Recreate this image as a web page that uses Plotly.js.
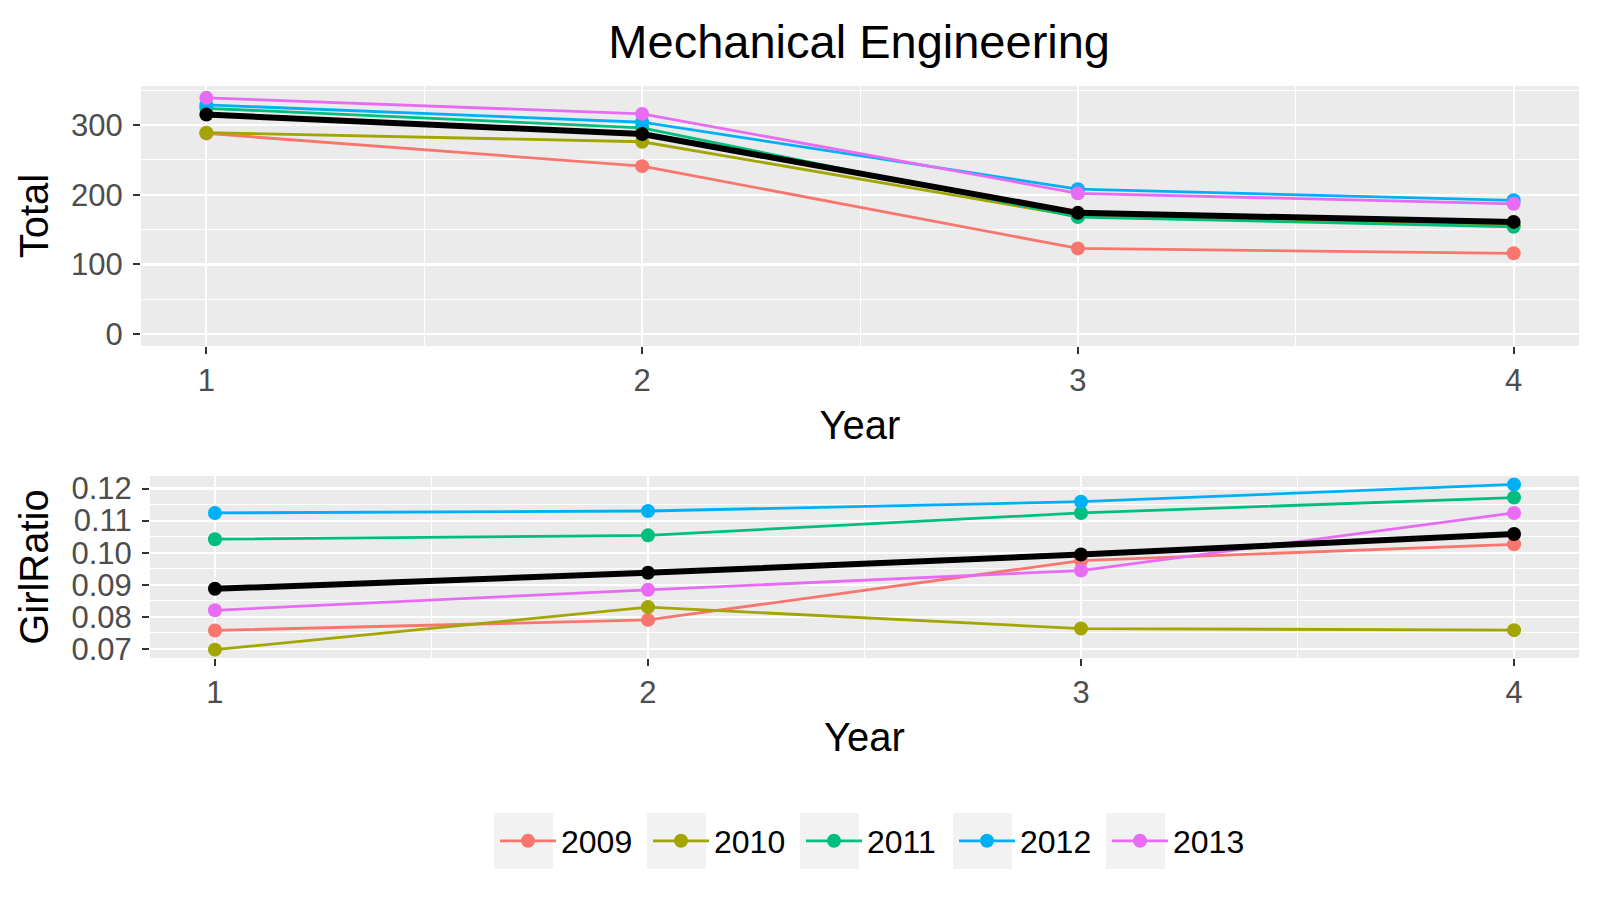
<!DOCTYPE html>
<html>
<head>
<meta charset="utf-8">
<script src="https://cdn.plot.ly/plotly-3.0.1.min.js"></script>
<style>html,body{margin:0;padding:0;background:#fff;}#chart{width:1600px;height:914px;}</style>
</head>
<body>
<div id="chart"></div>
<script>
var years = [1, 2, 3, 4];
var seriesNames = ['2009', '2010', '2011', '2012', '2013'];
var seriesColors = ['#F8766D', '#A3A500', '#00BF7D', '#00B0F6', '#E76BF3'];

var total2009 = [288, 241, 123, 116];
var total2010 = [289, 276, 169, 156];
var total2011 = [324, 296, 168, 154];
var total2012 = [329, 304, 208, 192];
var total2013 = [339, 316, 202, 187];
var totalMean = [315, 287, 174, 161];

var ratio2009 = [0.0757, 0.0790, 0.0975, 0.1026];
var ratio2010 = [0.0697, 0.0830, 0.0763, 0.0758];
var ratio2011 = [0.1042, 0.1054, 0.1124, 0.1172];
var ratio2012 = [0.1124, 0.1130, 0.1159, 0.1213];
var ratio2013 = [0.0820, 0.0884, 0.0944, 0.1124];
var ratioMean = [0.0887, 0.0937, 0.0994, 0.1058];

var totals = [total2009, total2010, total2011, total2012, total2013];
var ratios = [ratio2009, ratio2010, ratio2011, ratio2012, ratio2013];

var FONT = 'Liberation Sans, Arial, sans-serif';
var TICK = 31, AXT = 40;
var LW = 2.8, MS = 14, BLW = 6, BMS = 14;
var traces = [];
for (var i = 0; i < seriesNames.length; i++) {
  traces.push({
    x: years, y: totals[i], xaxis: 'x', yaxis: 'y', type: 'scatter', mode: 'lines+markers',
    name: seriesNames[i], legendgroup: seriesNames[i], showlegend: true,
    line: {color: seriesColors[i], width: LW}, marker: {color: seriesColors[i], size: MS}
  });
}
traces.push({x: years, y: totalMean, xaxis: 'x', yaxis: 'y', type: 'scatter', mode: 'lines+markers',
  showlegend: false, line: {color: '#000', width: BLW}, marker: {color: '#000', size: BMS}});
for (var j = 0; j < seriesNames.length; j++) {
  traces.push({
    x: years, y: ratios[j], xaxis: 'x2', yaxis: 'y2', type: 'scatter', mode: 'lines+markers',
    name: seriesNames[j], legendgroup: seriesNames[j], showlegend: false,
    line: {color: seriesColors[j], width: LW}, marker: {color: seriesColors[j], size: MS}
  });
}
traces.push({x: years, y: ratioMean, xaxis: 'x2', yaxis: 'y2', type: 'scatter', mode: 'lines+markers',
  showlegend: false, line: {color: '#000', width: BLW}, marker: {color: '#000', size: BMS}});

function xAxis(anchor, domain) {
  return {
    anchor: anchor, domain: domain, range: [0.85, 4.15], tickmode: 'array', tickvals: years,
    ticktext: years.map(String), showgrid: true, gridcolor: '#ffffff', gridwidth: 2.2,
    minor: {tickmode: 'array', tickvals: [1.5, 2.5, 3.5], showgrid: true, gridcolor: '#ffffff', gridwidth: 1, ticklen: 0},
    zeroline: false, showline: false, ticks: 'outside', ticklen: 7, tickwidth: 2, tickcolor: '#333333',
    tickfont: {family: FONT, size: TICK, color: '#4d4d4d'},
    title: {text: 'Year', font: {family: FONT, size: AXT, color: '#000'}, standoff: 13},
    automargin: false, fixedrange: true
  };
}

var shapes = [];
var legendLeft = 494, legendPitch = 153, boxW = 59;
for (var k = 0; k < seriesNames.length; k++) {
  shapes.push({type: 'rect', xref: 'paper', yref: 'paper', layer: 'below',
    x0: (legendLeft + k * legendPitch - 141) / 1438, x1: (legendLeft + k * legendPitch + boxW - 141) / 1438,
    y0: (658 - 869) / 572, y1: (658 - 813) / 572, fillcolor: '#f2f2f2', line: {width: 0}});
}

var layout = {
  width: 1600, height: 914,
  margin: {l: 141, r: 21, t: 86, b: 256},
  paper_bgcolor: '#ffffff', plot_bgcolor: '#ebebeb',
  title: {text: 'Mechanical Engineering', font: {family: FONT, size: 47, color: '#000'}, x: 0.537, xanchor: 'center', y: 0.955, yanchor: 'middle'},
  xaxis: xAxis('y', [0, 1]),
  xaxis2: xAxis('y2', [0.00626, 1]),
  yaxis: {
    anchor: 'x', domain: [0.5455, 1], range: [-17, 356], tickmode: 'array', tickvals: [0, 100, 200, 300],
    showgrid: true, gridcolor: '#ffffff', gridwidth: 2.2,
    minor: {tickmode: 'array', tickvals: [50, 150, 250, 350], showgrid: true, gridcolor: '#ffffff', gridwidth: 1, ticklen: 0},
    zeroline: false, ticks: 'outside', ticklen: 7, tickwidth: 2, tickcolor: '#333333', ticklabelstandoff: 4,
    tickfont: {family: FONT, size: TICK, color: '#4d4d4d'},
    title: {text: 'Total', font: {family: FONT, size: AXT, color: '#000'}, standoff: 10}, automargin: false, fixedrange: true
  },
  yaxis2: {
    anchor: 'x2', domain: [0, 0.318], range: [0.0671, 0.1239], tickmode: 'array',
    tickvals: [0.07, 0.08, 0.09, 0.10, 0.11, 0.12], ticktext: ['0.07', '0.08', '0.09', '0.10', '0.11', '0.12'],
    showgrid: true, gridcolor: '#ffffff', gridwidth: 2.2,
    minor: {tickmode: 'array', tickvals: [0.075, 0.085, 0.095, 0.105, 0.115], showgrid: true, gridcolor: '#ffffff', gridwidth: 1, ticklen: 0},
    zeroline: false, ticks: 'outside', ticklen: 7, tickwidth: 2, tickcolor: '#333333', ticklabelstandoff: 4,
    tickfont: {family: FONT, size: TICK, color: '#4d4d4d'},
    title: {text: 'GirlRatio', font: {family: FONT, size: AXT, color: '#000'}, standoff: 10}, automargin: false, fixedrange: true
  },
  showlegend: true,
  legend: {orientation: 'h', xref: 'container', yref: 'container', x: (legendLeft + 1) / 1600, xanchor: 'left',
    y: 1 - 841 / 914, yanchor: 'middle', bgcolor: 'rgba(0,0,0,0)', font: {family: FONT, size: 32, color: '#000'},
    itemwidth: 56, entrywidth: 82, entrywidthmode: 'pixels', itemclick: false, itemdoubleclick: false},
  shapes: shapes,
  hovermode: false
};

Plotly.newPlot('chart', traces, layout, {staticPlot: true, displayModeBar: false});
</script>
</body>
</html>
